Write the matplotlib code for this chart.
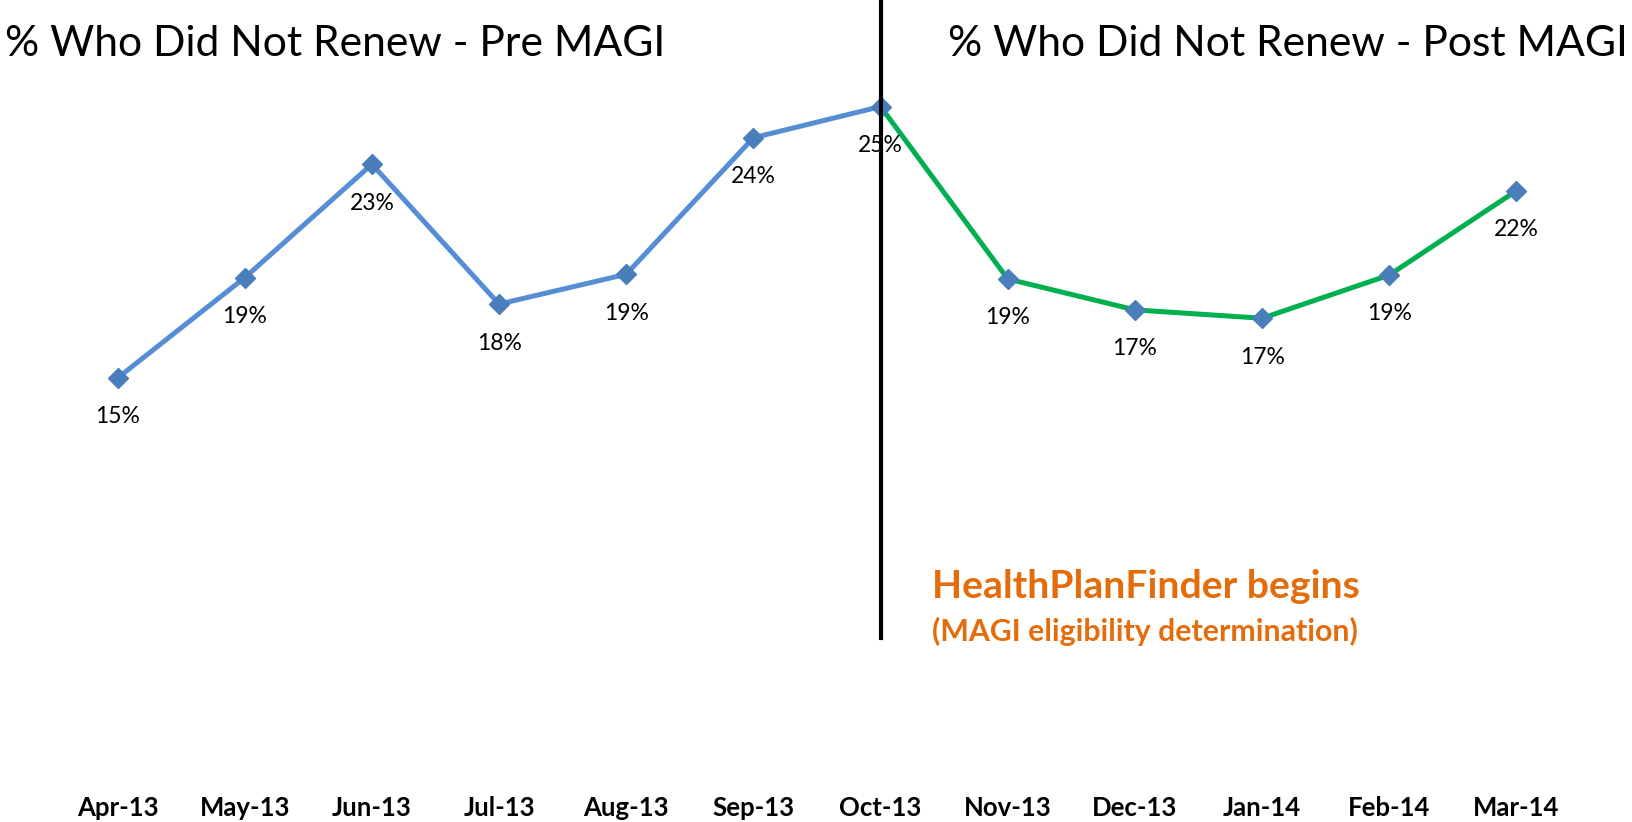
import matplotlib.pyplot as plt
import numpy as np

# % of enrollees who did not renew, by month
months = ['Apr-13', 'May-13', 'Jun-13', 'Jul-13', 'Aug-13', 'Sep-13',
          'Oct-13', 'Nov-13', 'Dec-13', 'Jan-14', 'Feb-14', 'Mar-14']
pct_not_renew = [14.79, 18.62, 22.95, 17.61, 18.75, 23.96,
                 25.15, 18.57, 17.39, 17.07, 18.72, 21.94]
split = 6  # Oct-13: HealthPlanFinder begins

plt.rcParams['font.family'] = ['Lato', 'DejaVu Sans']

W, H = 1633, 822
fig = plt.figure(figsize=(W / 100, H / 100), dpi=100)
# axes placed so the category axis sits at y=765 px, top of axes = top of figure
ax = fig.add_axes([54 / W, (H - 765.5) / H, 1526 / W, 765.5 / H])

x = np.arange(len(months))
y = np.array(pct_not_renew)

ax.plot(x[:split + 1], y[:split + 1], color='#558ED5', lw=3.6, zorder=2)
ax.plot(x[split:], y[split:], color='#00B050', lw=3.6, zorder=2)
ax.plot(x, y, ls='none', marker='D', ms=10, color='#4A7EBB', zorder=3)

for xi, v in zip(x, y):
    ax.annotate(f'{v:.0f}%', (xi, v), xytext=(0, -28), textcoords='offset points',
                ha='center', va='center', fontsize=16.5, color='black')

# vertical divider at Oct-13
ax.axvline(split, ymin=(765.5 - 638) / 765.5, ymax=1, color='black', lw=3, zorder=5)

ax.set_xlim(-0.5, len(months) - 0.5)
ax.set_ylim(0, 765.5 / 26.2)
ax.set_xticks(x, months, fontweight='bold', fontsize=18.5)
ax.tick_params(axis='x', length=0, pad=22)
ax.set_yticks([])
for s in ax.spines.values():
    s.set_visible(False)

fig.text(5 / W, 1 - 44 / H, '% Who Did Not Renew - Pre MAGI', fontsize=30.7,
         ha='left', va='center')
fig.text(948 / W, 1 - 44 / H, '% Who Did Not Renew - Post MAGI', fontsize=30.7,
         ha='left', va='center')

fig.text(932 / W, 1 - 586 / H, 'HealthPlanFinder begins', fontsize=28.2,
         fontweight='bold', color='#E46C0A', ha='left', va='center')
fig.text(932 / W, 1 - 631 / H, '(MAGI eligibility determination)', fontsize=21.8,
         fontweight='bold', color='#E46C0A', ha='left', va='center')

fig.savefig('out.png', dpi=100)
